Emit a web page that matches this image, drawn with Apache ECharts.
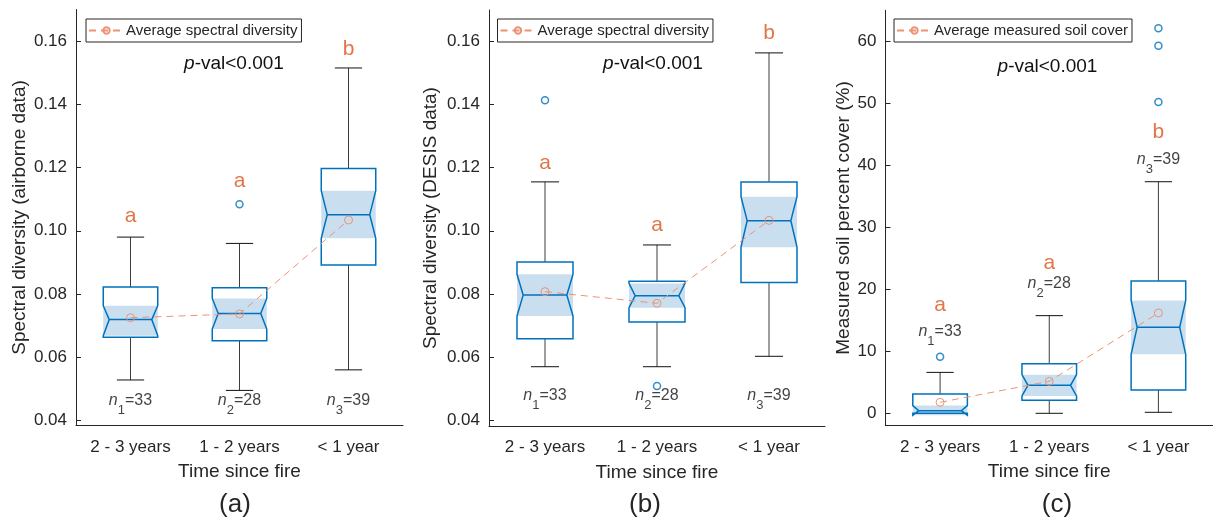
<!doctype html>
<html lang="en">
<head>
<meta charset="UTF-8">
<title>Spectral diversity and soil cover vs time since fire</title>
<style>
  html, body { margin: 0; padding: 0; background: #fff; }
  #main { width: 1213px; height: 517px; }
</style>
<script src="https://cdn.jsdelivr.net/npm/echarts@6/dist/echarts.min.js"></script>
</head>
<body>
<div id="main"></div>
<script>
// categories on every x axis
var categories = ['2 - 3 years', '1 - 2 years', '< 1 year'];
var counts = [33, 28, 39];

// box rows: [lower whisker, q1, notch low, median, notch high, q3, upper whisker]
var airborneBox = [
    [0.0528, 0.0663, 0.0668, 0.0719, 0.0763, 0.0822, 0.0980],
    [0.0495, 0.0652, 0.0689, 0.0738, 0.0786, 0.0820, 0.0960],
    [0.0560, 0.0892, 0.0976, 0.1051, 0.1127, 0.1197, 0.1515]
];
var airborneMean = [0.0725, 0.0737, 0.1034];
var airborneOutliers = [[1, 0.1084]];
var airborneLetters = ['a', 'a', 'b'];
var airborneLetterY = [0.1045, 0.1156, 0.1575];
var airborneCountY = [0.0460, 0.0460, 0.0460];

var desisBox = [
    [0.0569, 0.0658, 0.0730, 0.0796, 0.0862, 0.0901, 0.1155],
    [0.0569, 0.0711, 0.0756, 0.0794, 0.0833, 0.0840, 0.0955],
    [0.0602, 0.0836, 0.0948, 0.1032, 0.1108, 0.1155, 0.1564]
];
var desisMean = [0.0807, 0.0770, 0.1033];
var desisOutliers = [[0, 0.1414], [1, 0.0508]];
var desisLetters = ['a', 'a', 'b'];
var desisLetterY = [0.1215, 0.1017, 0.1625];
var desisCountY = [0.0474, 0.0474, 0.0474];

var soilBox = [
    [0.00, 0.00, -0.30, 0.42, 1.25, 3.10, 6.60],
    [0.00, 2.10, 2.79, 4.52, 6.23, 8.00, 15.75],
    [0.16, 3.76, 9.52, 13.87, 18.20, 21.34, 37.35]
];
var soilMean = [1.77, 5.16, 16.18];
var soilOutliers = [[0, 9.13], [2, 50.2], [2, 59.3], [2, 62.1]];
var soilLetters = ['a', 'a', 'b'];
var soilLetterY = [17.5, 24.2, 45.3];
var soilCountY = [13.0, 20.7, 40.7];

var FONT = "'Liberation Sans', Arial, sans-serif";
var TEXT = '#262626';
var BLUE = '#0072BD';
var SHADE = '#C9DFF0';
var ORANGE = '#D95319';
var MEAN = '#EB9373';

window.onload = function () {
    var chart = echarts.init(document.getElementById('main'));

    var panels = [
        {box: airborneBox, mean: airborneMean, out: airborneOutliers, letters: airborneLetters,
         letterY: airborneLetterY, countY: airborneCountY, name: 'Spectral diversity (airborne data)',
         legend: 'Average spectral diversity', min: 0.0384, max: 0.17, dec: 2,
         grid: {left: 76, top: 9.5, width: 327, height: 416}, nameGap: 47},
        {box: desisBox, mean: desisMean, out: desisOutliers, letters: desisLetters,
         letterY: desisLetterY, countY: desisCountY, name: 'Spectral diversity (DESIS data)',
         legend: 'Average spectral diversity', min: 0.0381, max: 0.17, dec: 2,
         grid: {left: 489, top: 10, width: 336, height: 416}, nameGap: 49},
        {box: soilBox, mean: soilMean, out: soilOutliers, letters: soilLetters,
         letterY: soilLetterY, countY: soilCountY, name: 'Measured soil percent cover (%)',
         legend: 'Average measured soil cover', min: -2, max: 65, dec: 0,
         grid: {left: 885.5, top: 10.3, width: 335.4, height: 415.4}, nameGap: 31}
    ];
    var legendPos = [86, 497.5, 894];

    function renderBox(params, api) {
        var idx = api.value(0);
        var lowW = api.value(1), q1 = api.value(2), nLo = api.value(3), med = api.value(4),
            nHi = api.value(5), q3 = api.value(6), highW = api.value(7);
        var band = api.size([1, 0])[0];
        var half = band * 0.25, cap = band * 0.125, ind = band * 0.055;
        var cx = api.coord([idx, med])[0];
        function y(v) { return api.coord([idx, v])[1]; }
        var L = cx - half, R = cx + half;
        var whisk = {stroke: '#3d3d3d', lineWidth: 1};
        var capStyle = {stroke: '#111', lineWidth: 1};
        return {
            type: 'group',
            children: [
                {type: 'line', shape: {x1: cx, y1: y(q3), x2: cx, y2: y(highW)}, style: whisk},
                {type: 'line', shape: {x1: cx, y1: y(q1), x2: cx, y2: y(lowW)}, style: whisk},
                {type: 'line', shape: {x1: cx - cap, y1: y(highW), x2: cx + cap, y2: y(highW)}, style: capStyle},
                {type: 'line', shape: {x1: cx - cap, y1: y(lowW), x2: cx + cap, y2: y(lowW)}, style: capStyle},
                {type: 'rect', shape: {x: L, y: y(nHi), width: 2 * half, height: y(nLo) - y(nHi)},
                 style: {fill: SHADE}},
                {type: 'polygon', shape: {points: [
                    [L, y(q3)], [R, y(q3)], [R, y(nHi)], [R - ind, y(med)], [R, y(nLo)], [R, y(q1)],
                    [L, y(q1)], [L, y(nLo)], [L + ind, y(med)], [L, y(nHi)]
                ]}, style: {fill: null, stroke: BLUE, lineWidth: 1.5}},
                {type: 'line', shape: {x1: L + ind, y1: y(med), x2: R - ind, y2: y(med)},
                 style: {stroke: BLUE, lineWidth: 1.5}}
            ]
        };
    }

    var option = {
        animation: false,
        textStyle: {fontFamily: FONT},
        grid: [], xAxis: [], yAxis: [], series: [], legend: [], graphic: []
    };

    panels.forEach(function (p, k) {
        option.grid.push(p.grid);
        option.xAxis.push({
            type: 'category', gridIndex: k, data: categories,
            name: 'Time since fire', nameLocation: 'middle', nameGap: 37,
            nameTextStyle: {fontSize: 19, color: TEXT, fontFamily: FONT},
            axisLine: {onZero: false, lineStyle: {color: TEXT, width: 1}},
            axisTick: {inside: true, length: 5, alignWithLabel: true, lineStyle: {color: TEXT}},
            axisLabel: {fontSize: 17, color: TEXT, margin: 13, fontFamily: FONT}
        });
        option.yAxis.push({
            type: 'value', gridIndex: k, min: p.min, max: p.max, splitNumber: 7,
            name: p.name, nameLocation: 'middle', nameGap: p.nameGap,
            nameTextStyle: {fontSize: 19, color: TEXT, fontFamily: FONT},
            axisLine: {show: true, lineStyle: {color: TEXT, width: 1}},
            axisTick: {show: true, inside: true, length: 5, lineStyle: {color: TEXT}},
            splitLine: {show: false},
            axisLabel: {fontSize: 17, color: TEXT, margin: 9, fontFamily: FONT,
                        showMinLabel: false, showMaxLabel: false,
                        formatter: function (v) { return v.toFixed(p.dec); }}
        });
        option.series.push({
            type: 'custom', xAxisIndex: k, yAxisIndex: k, renderItem: renderBox, z: 2,
            encode: {x: 0, y: [1, 2, 3, 4, 5, 6, 7]},
            data: p.box.map(function (b, i) { return [i].concat(b); })
        });
        option.series.push({
            type: 'scatter', xAxisIndex: k, yAxisIndex: k, z: 3,
            symbol: 'circle', symbolSize: 7,
            itemStyle: {color: 'transparent', borderColor: BLUE, borderWidth: 1.5},
            data: p.out
        });
        option.series.push({
            type: 'line', name: p.legend, xAxisIndex: k, yAxisIndex: k, z: 4,
            symbol: 'circle', symbolSize: 8,
            lineStyle: {color: MEAN, width: 1, type: [7, 5]},
            itemStyle: {color: 'transparent', borderColor: MEAN, borderWidth: 1},
            data: p.mean
        });
        option.series.push({
            type: 'scatter', xAxisIndex: k, yAxisIndex: k, z: 5, symbolSize: 0, silent: true,
            label: {show: true, position: 'inside', fontSize: 21, color: ORANGE, fontFamily: FONT,
                    formatter: function (d) { return p.letters[d.dataIndex]; }},
            data: p.letterY.map(function (v, i) { return [i, v]; })
        });
        option.series.push({
            type: 'scatter', xAxisIndex: k, yAxisIndex: k, z: 5, symbolSize: 0, silent: true,
            label: {
                show: true, position: 'inside', color: TEXT, fontFamily: FONT,
                formatter: function (d) {
                    return '{i|n}{s|' + (d.dataIndex + 1) + '}{t|=' + counts[d.dataIndex] + '}';
                },
                rich: {
                    i: {fontSize: 16, fontStyle: 'italic', lineHeight: 18, verticalAlign: 'top', color: '#111', fontFamily: FONT},
                    s: {fontSize: 13, lineHeight: 10, padding: [11, 0, 0, 0], verticalAlign: 'top', color: '#111', fontFamily: FONT},
                    t: {fontSize: 16, lineHeight: 18, verticalAlign: 'top', color: '#111', fontFamily: FONT}
                }
            },
            data: p.countY.map(function (v, i) { return [i, v]; })
        });
        option.legend.push({
            left: legendPos[k], top: 19, orient: 'horizontal',
            data: [p.legend], selectedMode: false,
            itemWidth: 35, itemHeight: 8, itemGap: 0,
            padding: [4, 4, 4, 2], borderColor: TEXT, borderWidth: 1, borderRadius: 0,
            textStyle: {fontSize: 15, color: TEXT, fontFamily: FONT, padding: [0, 0, 0, -3]}
        });
    });

    var pvalX = [234, 653, 1047.5];
    var pvalY = [64, 64, 66.7];
    var tags = ['(a)', '(b)', '(c)'];
    var tagX = [235, 645, 1057];
    for (var k = 0; k < 3; k++) {
        option.graphic.push({
            type: 'text', x: pvalX[k], y: pvalY[k],
            style: {
                text: '{i|p}{t|-val<0.001}', align: 'center', verticalAlign: 'middle',
                rich: {
                    i: {fontSize: 19, fontStyle: 'italic', fill: '#111', fontFamily: FONT},
                    t: {fontSize: 19, fill: '#111', fontFamily: FONT}
                }
            }
        });
        option.graphic.push({
            type: 'text', x: tagX[k], y: 505,
            style: {text: tags[k], fontSize: 26, fill: TEXT, fontFamily: FONT,
                    align: 'center', verticalAlign: 'middle'}
        });
    }

    chart.setOption(option);
};
</script>
</body>
</html>
